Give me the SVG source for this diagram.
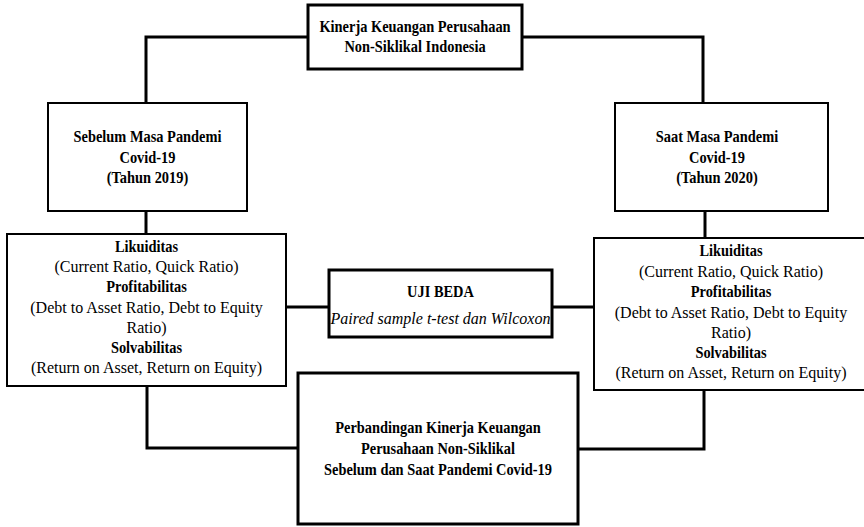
<svg xmlns="http://www.w3.org/2000/svg" width="864" height="527" viewBox="0 0 864 527">
<style>
.box{fill:#fff;stroke:#000;stroke-width:2}
.thick{fill:#fff;stroke:#000;stroke-width:3}
.con{fill:none;stroke:#000;stroke-width:3}
text{font-family:"Liberation Serif","Times New Roman",serif;fill:#000;text-anchor:middle}
.b{font-weight:bold;font-size:16px}
.r{font-size:16px}
.i{font-size:16px;font-style:italic}
</style>
<rect width="864" height="527" fill="#fff"/>
<g id="connectors">
<path class="con" d="M308,37 H146 V103"/>
<path class="con" d="M522,37 H703 V103"/>
<path class="con" d="M146,211 V234"/>
<path class="con" d="M705,211 V238"/>
<path class="con" d="M286,307 H329"/>
<path class="con" d="M552,307 H594"/>
<path class="con" d="M147,386 V448 H298"/>
<path class="con" d="M704,390 V449 H578"/>
</g>
<g id="top">
<rect class="thick" x="308" y="5" width="214" height="64"/>
<text class="b" transform="translate(415 32) scale(0.9 1)">Kinerja Keuangan Perusahaan</text>
<text class="b" transform="translate(415 52) scale(0.9 1)">Non-Siklikal Indonesia</text>
</g>
<g id="sebelum">
<rect class="box" x="48" y="103" width="199" height="108"/>
<text class="b" transform="translate(147.5 142) scale(0.9 1)">Sebelum Masa Pandemi</text>
<text class="b" transform="translate(147.5 163) scale(0.9 1)">Covid-19</text>
<text class="b" transform="translate(147.5 183) scale(0.9 1)">(Tahun 2019)</text>
</g>
<g id="saat">
<rect class="box" x="615" y="103" width="213" height="108"/>
<text class="b" transform="translate(717 142) scale(0.9 1)">Saat Masa Pandemi</text>
<text class="b" transform="translate(717 163) scale(0.9 1)">Covid-19</text>
<text class="b" transform="translate(717 183) scale(0.9 1)">(Tahun 2020)</text>
</g>
<g id="rasio-2019">
<rect class="box" x="7" y="234" width="279" height="152"/>
<text class="b" transform="translate(146.5 252) scale(0.9 1)">Likuiditas</text>
<text class="r" x="146.5" y="272">(Current Ratio, Quick Ratio)</text>
<text class="b" transform="translate(146.5 292) scale(0.9 1)">Profitabilitas</text>
<text class="r" x="146.5" y="313">(Debt to Asset Ratio, Debt to Equity</text>
<text class="r" x="146.5" y="333">Ratio)</text>
<text class="b" transform="translate(146.5 353) scale(0.9 1)">Solvabilitas</text>
<text class="r" x="146.5" y="373">(Return on Asset, Return on Equity)</text>
</g>
<g id="rasio-2020">
<rect class="box" x="594" y="238" width="274" height="152"/>
<text class="b" transform="translate(731 256) scale(0.9 1)">Likuiditas</text>
<text class="r" x="731" y="277">(Current Ratio, Quick Ratio)</text>
<text class="b" transform="translate(731 297) scale(0.9 1)">Profitabilitas</text>
<text class="r" x="731" y="318">(Debt to Asset Ratio, Debt to Equity</text>
<text class="r" x="731" y="338">Ratio)</text>
<text class="b" transform="translate(731 358) scale(0.9 1)">Solvabilitas</text>
<text class="r" x="731" y="378">(Return on Asset, Return on Equity)</text>
</g>
<g id="uji-beda">
<rect class="thick" x="329" y="270" width="223" height="67"/>
<text class="b" transform="translate(440.5 297) scale(0.9 1)">UJI BEDA</text>
<text class="i" x="440.5" y="324">Paired sample t-test dan Wilcoxon</text>
</g>
<g id="perbandingan">
<rect class="thick" x="298" y="373" width="280" height="151"/>
<text class="b" transform="translate(438 433) scale(0.9 1)">Perbandingan Kinerja Keuangan</text>
<text class="b" transform="translate(438 454) scale(0.9 1)">Perusahaan Non-Siklikal</text>
<text class="b" transform="translate(438 475) scale(0.9 1)">Sebelum dan Saat Pandemi Covid-19</text>
</g>
</svg>
